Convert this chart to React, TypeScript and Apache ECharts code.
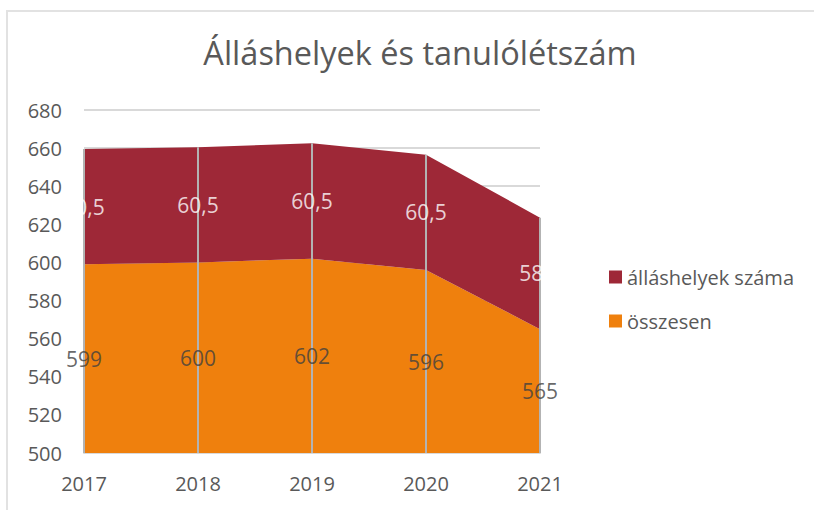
import React, { useEffect, useRef } from "react";
import * as echarts from "echarts";

const years = ["2017", "2018", "2019", "2020", "2021"];
const osszesen = [599, 600, 602, 596, 565];
const allashelyek = [60.5, 60.5, 60.5, 60.5, 58.5];
const yMin = 500;
const yMax = 680;
const yStep = 20;

const FONT = "'Open Sans', 'Noto Sans', sans-serif";
const RED = "#9E2837";
const ORANGE = "#EF800D";
const TXT = "#595959";

const fmt = (v: number) => String(v).replace(".", ",");

export default function App() {
  const ref = useRef<HTMLDivElement>(null);
  useEffect(() => {
    if (!ref.current) return;
    const chart = echarts.init(ref.current, undefined, { renderer: "svg" });
    const totals = osszesen.map((v, i) => v + allashelyek[i]);
    const midOrange = osszesen.map((v) => (yMin + v) / 2);
    const midRed = osszesen.map((v, i) => v + allashelyek[i] / 2);
    chart.setOption({
      animation: false,
      textStyle: { fontFamily: FONT },
      title: {
        text: "Álláshelyek és tanulólétszám",
        left: 415,
        textAlign: "center",
        top: 31,
        textStyle: { fontFamily: FONT, fontSize: 32.5, fontWeight: "normal", color: TXT },
      },
      graphic: [
        {
          type: "rect",
          shape: { x: 7, y: 11, width: 900, height: 600 },
          style: { fill: "none", stroke: "#e2e2e2", lineWidth: 2 },
          silent: true,
        },
      ],
      legend: {
        data: ["álláshelyek száma", "összesen"],
        orient: "vertical",
        left: 604,
        top: 262,
        itemWidth: 13,
        itemHeight: 13,
        itemGap: 24,
        icon: "rect",
        textStyle: { fontFamily: FONT, fontSize: 20, color: TXT },
      },
      grid: { left: 84, right: 274, top: 110, bottom: 57 },
      xAxis: {
        type: "category",
        data: years,
        boundaryGap: false,
        axisLine: { lineStyle: { color: "#d9d9d9", width: 2 } },
        axisTick: { show: false },
        axisLabel: { fontFamily: FONT, fontSize: 20, color: TXT, margin: 20 },
        splitLine: { show: false },
      },
      yAxis: {
        type: "value",
        min: yMin,
        max: yMax,
        interval: yStep,
        axisLine: { show: false },
        axisTick: { show: false },
        axisLabel: { fontFamily: FONT, fontSize: 20, color: TXT, margin: 22 },
        splitLine: { lineStyle: { color: "#d9d9d9", width: 2 } },
      },
      series: [
        {
          name: "összesen",
          type: "line",
          stack: "total",
          data: osszesen,
          symbol: "none",
          lineStyle: { width: 0 },
          itemStyle: { color: ORANGE },
          areaStyle: { color: ORANGE, opacity: 1 },
          z: 2,
        },
        {
          name: "álláshelyek száma",
          type: "line",
          stack: "total",
          data: allashelyek,
          symbol: "none",
          lineStyle: { width: 0 },
          itemStyle: { color: RED },
          areaStyle: { color: RED, opacity: 1 },
          z: 2,
          markLine: {
            silent: true,
            symbol: "none",
            z: 4,
            label: { show: false },
            lineStyle: { color: "#b3b3b3", width: 2, type: "solid" },
            data: years.map((y, i) => [
              { coord: [y, yMin] },
              { coord: [y, totals[i]] },
            ]),
          },
        },
        {
          name: "lbl-orange",
          type: "scatter",
          symbolSize: 0,
          clip: false,
          z: 6,
          data: years.map((y, i) => ({ value: [y, midOrange[i]] })),
          label: {
            show: true,
            position: "inside",
            fontFamily: FONT,
            fontSize: 21,
            color: "#404040",
            formatter: (p: any) => fmt(osszesen[p.dataIndex]),
          },
        },
        {
          name: "lbl-red",
          type: "scatter",
          symbolSize: 0,
          clip: false,
          z: 6,
          data: years.map((y, i) => ({ value: [y, midRed[i]] })),
          label: {
            show: true,
            position: "inside",
            fontFamily: FONT,
            fontSize: 21,
            color: "#ffffff",
            formatter: (p: any) => fmt(allashelyek[p.dataIndex]),
          },
        },
      ],
    });
    return () => chart.dispose();
  }, []);
  return (
    <div
      ref={ref}
      style={{ position: "fixed", left: 0, top: 0, width: 814, height: 510, background: "#fff" }}
    />
  );
}
